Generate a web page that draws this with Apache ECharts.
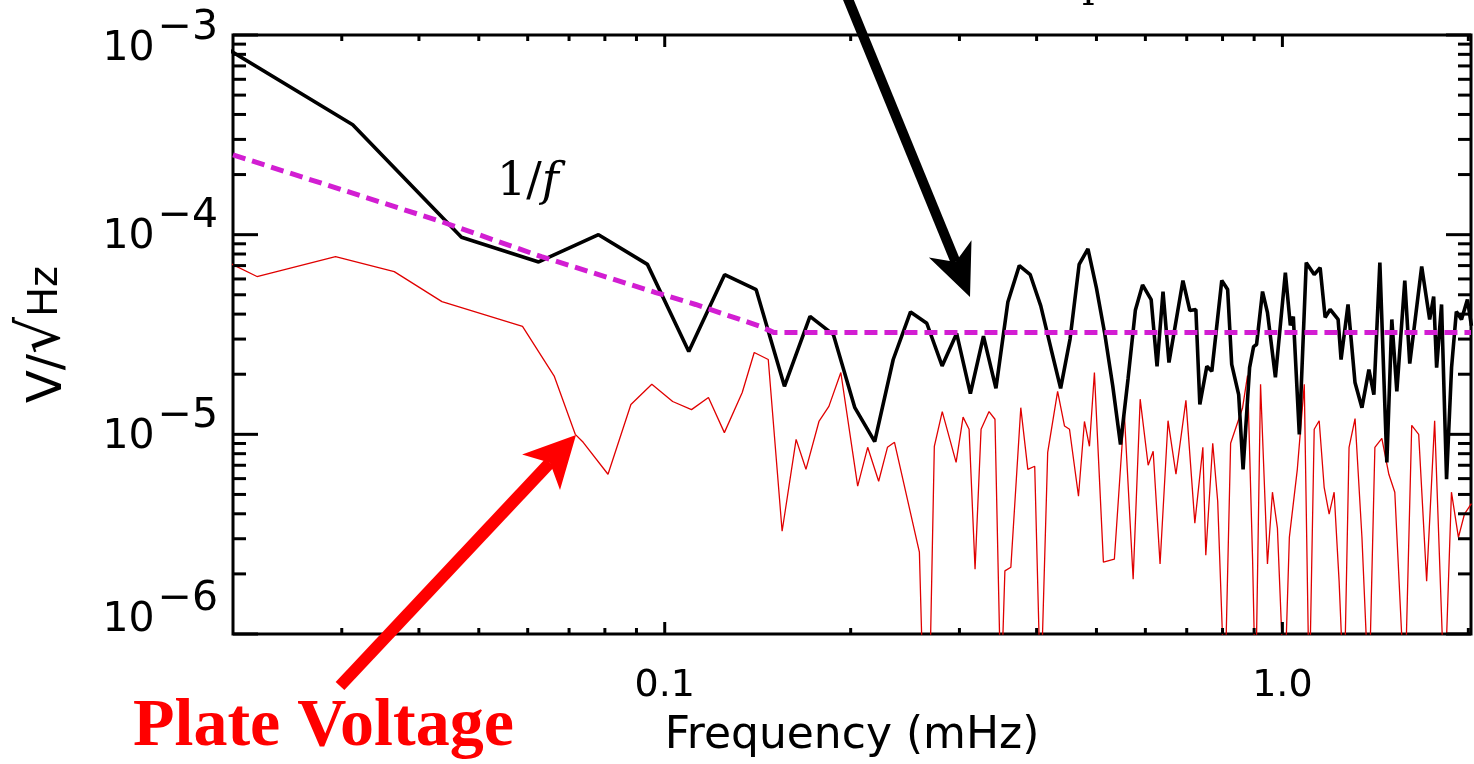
<!DOCTYPE html>
<html><head><meta charset="utf-8">
<script src="https://cdn.jsdelivr.net/npm/echarts@6/dist/echarts.min.js"></script>
<style>html,body{margin:0;padding:0;background:#fff}#c{width:1474px;height:764px}</style>
</head><body><div id="c"></div>
<script>
// ---- data (frequency in mHz, amplitude in V/sqrt(Hz)) ----
const blackFreq = [0.015625,0.03125,0.046875,0.0625,0.078125,0.09375,0.109375,0.125,0.140625,0.15625,0.171875,0.1875,0.203125,0.21875,0.234375,0.25,0.265625,0.28125,0.296875,0.3125,0.328125,0.34375,0.359375,0.375,0.390625,0.40625,0.421875,0.4375,0.453125,0.46875,0.484375,0.5,0.515625,0.53125,0.546875,0.5625,0.578125,0.59375,
0.6131,0.6267,0.6408,0.6552,0.6902,0.7082,0.7243,0.7351,0.7545,0.7687,0.7977,0.8154,0.8278,0.8496,0.8637,0.8849,0.8982,0.9082,0.9286,0.9459,0.9743,1.0111,1.0301,1.0416,1.0651,1.0930,1.1259,1.1511,1.1727,1.1948,1.2308,1.2445,1.2772,1.3108,1.3452,1.3806,1.4064,1.4381,1.4761,1.5037,1.5320,1.5782,1.6077,1.6808,1.7315,1.7575,1.7770,1.8100,1.8441,1.8788,1.9126,1.9497,1.9933,2.023];
const blackAmp = [1.3e-3,3.55e-4,9.7e-5,7.3e-5,1.0e-4,7.1e-5,2.6e-5,6.3e-5,5.3e-5,1.74e-5,3.9e-5,3.16e-5,1.36e-5,9.2e-6,2.37e-5,4.1e-5,3.6e-5,2.2e-5,3.2e-5,1.6e-5,3.1e-5,1.7e-5,4.6e-5,7.0e-5,6.3e-5,4.4e-5,2.7e-5,1.7e-5,3.0e-5,7.1e-5,8.5e-5,5.4e-5,3.2e-5,1.75e-5,8.9e-6,1.9e-5,4.2e-5,5.6e-5,
4.73e-5,2.19e-5,5.19e-5,2.29e-5,5.89e-5,4.17e-5,4.22e-5,1.41e-5,2.19e-5,2.07e-5,5.89e-5,5.31e-5,2.24e-5,1.58e-5,6.68e-6,2.16e-5,2.75e-5,2.82e-5,5.19e-5,4.07e-5,1.93e-5,6.46e-5,3.51e-5,3.89e-5,1.0e-5,7.24e-5,6.31e-5,6.84e-5,3.85e-5,4.22e-5,3.76e-5,2.37e-5,4.47e-5,1.82e-5,1.36e-5,2.11e-5,1.58e-5,7.24e-5,7.24e-6,3.76e-5,1.64e-5,5.89e-5,2.26e-5,6.92e-5,3.76e-5,4.9e-5,2.16e-5,4.47e-5,5.96e-6,2.16e-5,4.12e-5,3.76e-5,4.73e-5,3.5e-5];

const redFreq = [0.01465,0.02187,0.02931,0.03648,0.04358,0.05885,0.06627,0.07164,0.07379,0.08094,0.08815,0.0953,0.103,0.1105,0.1177,0.1249,0.1335,0.1396,0.1471,0.1549,0.1632,0.1693,0.1777,0.1844,0.1928,0.2053,0.2131,0.222,0.2294,0.2355,0.2584,0.2623,0.2682,0.2732,0.2814,0.2963,0.3041,0.311,0.318,0.3252,0.335,0.3425,0.3502,0.3554,0.3634,0.3771,0.3871,0.3972,0.4061,0.4169,0.4326,0.4439,0.4522,0.4676,0.4781,0.4871,0.4962,0.5131,0.5345,0.5546,0.5733,0.5885,0.6063,0.6177,0.6338,0.6529,0.6725,0.6979,0.7215,0.7434,0.7516,0.7713,0.7857,0.8065,0.8245,0.8621,0.8781,0.8948,0.9048,0.9218,0.9458,0.9636,0.9816,1.0074,1.0263,1.0572,1.085,1.1053,1.1259,1.147,1.1685,1.1904,1.2127,1.2354,1.2585,1.2821,1.3111,1.3452,1.3806,1.4117,1.4488,1.4871,1.5205,1.5782,1.6195,1.6621,1.7121,1.764,1.8299,1.878,1.9275,1.971,2.023];
const redAmp = [1.135e-4,6.17e-5,7.76e-5,6.53e-5,4.62e-5,3.47e-5,1.95e-5,1.0e-5,9.12e-6,6.31e-6,1.41e-5,1.78e-5,1.46e-5,1.33e-5,1.53e-5,1.02e-5,1.62e-5,2.57e-5,2.37e-5,3.27e-6,9.44e-6,6.68e-6,1.16e-5,1.38e-5,2.04e-5,5.5e-6,8.61e-6,5.82e-6,8.61e-6,9.12e-6,2.57e-6,4.7e-7,4.7e-7,8.71e-6,1.3e-5,7.24e-6,1.22e-5,1.06e-5,2.11e-6,1.06e-5,1.3e-5,1.19e-5,4.7e-7,2.07e-6,2.16e-6,1.36e-5,6.68e-6,6.92e-6,4.7e-7,8.13e-6,1.64e-5,1.1e-5,1.06e-5,4.9e-6,1.16e-5,8.71e-6,2.04e-5,2.29e-6,2.37e-6,1.29e-5,1.88e-6,1.5e-5,7.0e-6,8.22e-6,2.24e-6,1.17e-5,6.31e-6,1.48e-5,3.59e-6,8.61e-6,2.48e-6,9.02e-6,4.62e-6,4.7e-7,9.02e-6,1.36e-5,1.97e-5,2.37e-6,4.7e-7,1.78e-5,2.24e-6,5.13e-6,3.39e-6,4.7e-7,3.05e-6,6.68e-6,1.78e-5,4.7e-7,1.06e-5,1.17e-5,5.43e-6,3.98e-6,5.13e-6,1.84e-6,4.7e-7,8.61e-6,1.2e-5,3.05e-6,4.7e-7,8.61e-6,9.55e-6,6.31e-6,5.13e-6,4.7e-7,1.11e-5,1.0e-5,1.84e-6,1.17e-5,4.7e-7,5.13e-6,3.05e-6,3.98e-6,4.5e-6];

const fitFreq = [0.02,0.04358,0.06316,0.09671,0.1122,0.1429,0.1500,2.02];
const fitAmp  = [2.51e-4,1.16e-4,7.76e-5,5.13e-5,4.47e-5,3.47e-5,3.24e-5,3.24e-5];

const xMajorTicks = [0.1, 1.0];
const xMinorTicks = [0.03,0.04,0.05,0.06,0.07,0.08,0.09,0.2,0.3,0.4,0.5,0.6,0.7,0.8,0.9,2.0];
const yMajorTicks = [1e-6,1e-5,1e-4,1e-3];
const yMinorTicks = [2e-6,3e-6,4e-6,5e-6,6e-6,7e-6,8e-6,9e-6,2e-5,3e-5,4e-5,5e-5,6e-5,7e-5,8e-5,9e-5,2e-4,3e-4,4e-4,5e-4,6e-4,7e-4,8e-4,9e-4];
const X_MIN = 0.02, X_MAX = 2.02, Y_MIN = 1e-6, Y_MAX = 1e-3;

const zip = (a, b) => a.map((v, i) => [v, b[i]]);
const chart = echarts.init(document.getElementById('c'), null, {renderer: 'canvas'});
const SANS = 'DejaVu Sans';

const option = {
  animation: false,
  backgroundColor: '#fff',
  grid: {left: 233, top: 35, width: 1248, height: 599, show: true, borderColor: '#000', borderWidth: 3, backgroundColor: 'transparent'},
  xAxis: {
    type: 'log', logBase: 10, min: X_MIN, max: X_MAX,
    axisLine: {show: false}, axisTick: {show: false}, splitLine: {show: false}, minorTick: {show: false},
    axisLabel: {
      margin: 33, color: '#000', fontSize: 38, fontFamily: SANS,
      formatter: v => { const l = Math.log10(v); if (Math.abs(l - Math.round(l)) > 1e-6) return ''; const r = Math.round(l); return r === 0 ? '1.0' : (r === -1 ? '0.1' : ''); }
    },
    name: 'Frequency (mHz)', nameLocation: 'middle', nameGap: 81,
    nameTextStyle: {color: '#000', fontSize: 44, fontFamily: SANS}
  },
  yAxis: {
    type: 'log', logBase: 10, min: Y_MIN, max: Y_MAX,
    axisLine: {show: false}, axisTick: {show: false}, splitLine: {show: false}, minorTick: {show: false},
    axisLabel: {
      margin: 15, color: '#000', padding: [0, 0, 15, 0],
      formatter: v => {
        const e = Math.round(Math.log10(v));
        const sup = '−' + Math.abs(e);
        if (e === -3) return '{bT|10}{sT|' + sup + '}';
        if (e === -6) return '{bB|10}{s|' + sup + '}';
        return '{b|10}{s|' + sup + '}';
      },
      rich: {
        b:  {fontSize: 41, fontFamily: SANS, color: '#000', verticalAlign: 'top', padding: [21, 0, 0, 0]},
        s:  {fontSize: 41, fontFamily: SANS, color: '#000', verticalAlign: 'top', padding: [0, 0, 0, 3]},
        bT: {fontSize: 41, fontFamily: SANS, color: '#000', verticalAlign: 'top', padding: [43, 0, 0, 0]},
        sT: {fontSize: 41, fontFamily: SANS, color: '#000', verticalAlign: 'top', padding: [22, 0, 0, 3]},
        bB: {fontSize: 41, fontFamily: SANS, color: '#000', verticalAlign: 'top', padding: [21, 0, 34, 0]}
      }
    },
    name: '{a|V/}{r|√}{h|Hz}', nameLocation: 'middle', nameGap: 160, nameRotate: 90,
    nameTextStyle: {color: '#000', fontSize: 46, fontFamily: SANS,
      rich: {a: {fontSize: 48, fontFamily: SANS, color: '#000', verticalAlign: 'bottom'},
             r: {fontSize: 58, fontFamily: SANS, color: '#000', verticalAlign: 'bottom'},
             h: {fontSize: 40, fontFamily: SANS, color: '#000', verticalAlign: 'bottom', padding: [0, 0, 6, 0]}}}
  },
  series: [
    {type: 'line', data: zip(redFreq, redAmp), showSymbol: false, symbol: 'none', clip: true, z: 2,
     lineStyle: {color: '#e00000', width: 1.3}},
    {type: 'line', data: zip(blackFreq, blackAmp), showSymbol: false, symbol: 'none', clip: true, z: 3,
     lineStyle: {color: '#000', width: 3.6}},
    {type: 'line', data: zip(fitFreq, fitAmp), showSymbol: false, symbol: 'none', clip: true, z: 4,
     lineStyle: {color: '#d21ed2', width: 5, type: [13, 7]}},
    {type: 'custom', data: [[X_MIN, Y_MIN]], clip: false, silent: true, z: 5,
     renderItem: (params, api) => {
       const kids = [];
       const seg = (x1, y1, x2, y2) => ({type: 'line', shape: {x1, y1, x2, y2}, style: {stroke: '#000', lineWidth: 3}});
       const xt = (v, len) => { const b = api.coord([v, Y_MIN]); const t = api.coord([v, Y_MAX]);
         kids.push(seg(b[0], b[1], b[0], b[1] - len), seg(t[0], t[1], t[0], t[1] + len)); };
       const yt = (v, len) => { const l = api.coord([X_MIN, v]); const r = api.coord([X_MAX, v]);
         kids.push(seg(l[0], l[1], l[0] + len, l[1]), seg(r[0], r[1], r[0] - len, r[1])); };
       xMajorTicks.forEach(v => xt(v, 12));
       xMinorTicks.forEach(v => xt(v, 6));
       yMajorTicks.forEach(v => yt(v, 25));
       yMinorTicks.forEach(v => yt(v, 13));
       return {type: 'group', children: kids};
     }}
  ],
  graphic: [
    // 1/f annotation
    {type: 'text', left: 497, top: 160, z: 10,
     style: {text: '{n|1/}{i|f}', rich: {n: {fontSize: 46, fontFamily: 'DejaVu Serif', fill: '#000'}, i: {fontSize: 46, fontFamily: 'DejaVu Serif', fontStyle: 'italic', fill: '#000'}}}},
    // fragment of a cut-off label at the top edge
    {type: 'text', z: 10, x: 1082, y: 7,
     style: {text: 'p', fill: '#000', font: '40px "DejaVu Serif"', verticalAlign: 'bottom', align: 'left'}},
    // black arrow
    {type: 'line', z: 10, shape: {x1: 846, y1: -6, x2: 955.6, y2: 261.9}, style: {stroke: '#000', lineWidth: 10}},
    {type: 'polygon', z: 10, shape: {points: [[970, 297], [928.9, 257.6], [955.6, 261.9], [971.5, 240.2]]}, style: {fill: '#000'}},
    // red arrow
    {type: 'line', z: 10, shape: {x1: 340, y1: 686, x2: 550, y2: 462.7}, style: {stroke: '#ff0000', lineWidth: 12}},
    {type: 'polygon', z: 10, shape: {points: [[576, 435], [522.1, 454.4], [550, 462.7], [560, 490]]}, style: {fill: '#ff0000'}},
    // Plate Voltage label
    {type: 'text', z: 10, x: 133, y: 727,
     style: {text: 'Plate Voltage', fill: '#ff0000', font: 'bold 68px "Liberation Serif"', verticalAlign: 'middle', align: 'left'}}
  ]
};
chart.setOption(option);
</script>
</body></html>
